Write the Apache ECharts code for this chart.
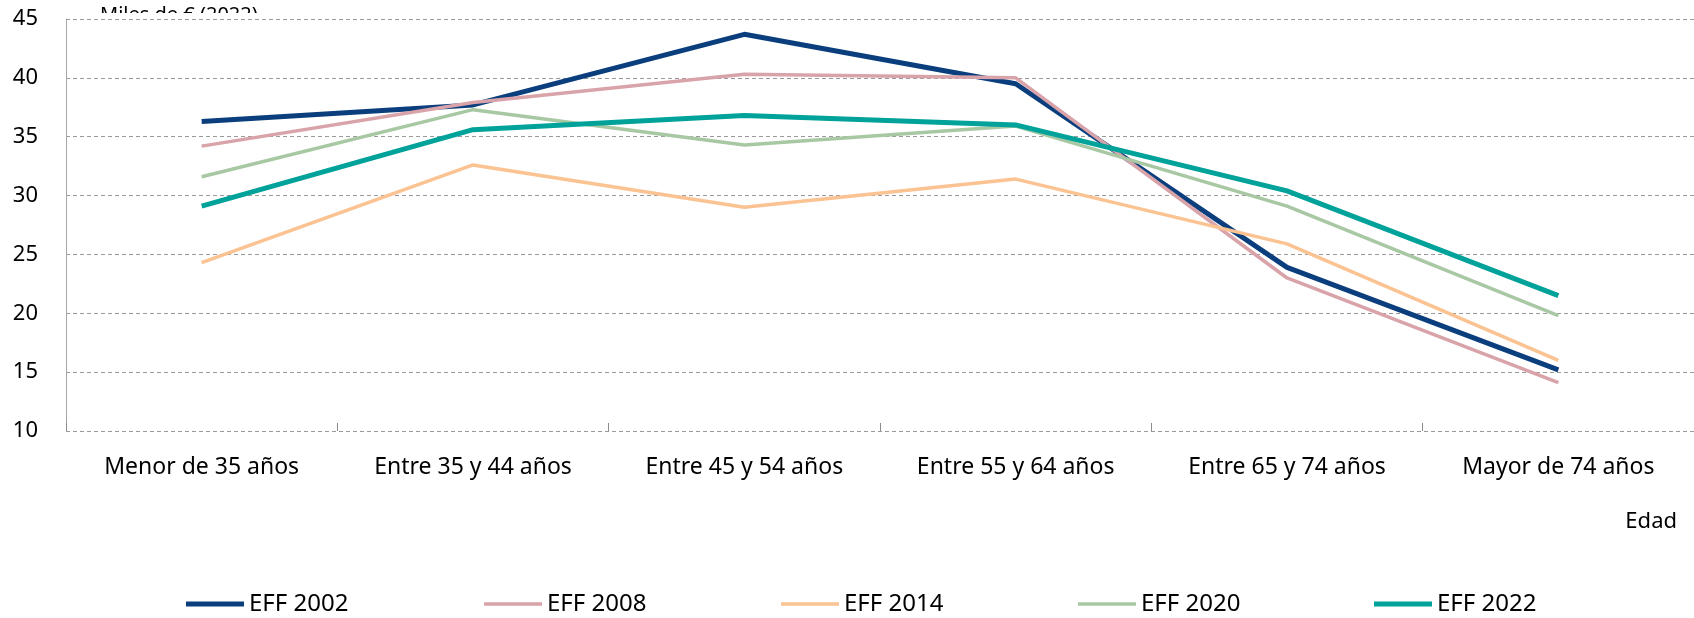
<!DOCTYPE html>
<html>
<head>
<meta charset="utf-8">
<script src="https://cdn.jsdelivr.net/npm/echarts@6/dist/echarts.min.js"></script>
<style>
  html, body { margin: 0; padding: 0; background: #fff; }
  #chart { width: 1694px; height: 618px; }
</style>
</head>
<body>
<div id="chart"></div>
<script>
// grupos de edad
const categories = ['Menor de 35 años', 'Entre 35 y 44 años', 'Entre 45 y 54 años', 'Entre 55 y 64 años', 'Entre 65 y 74 años', 'Mayor de 74 años']
// miles de euros (2022)
const eff2002 = [36.3, 37.7, 43.7, 39.5, 23.9, 15.2]
const eff2008 = [34.2, 37.9, 40.3, 40.0, 23.0, 14.1]
const eff2014 = [24.3, 32.6, 29.0, 31.4, 25.9, 16.0]
const eff2020 = [31.6, 37.3, 34.3, 35.9, 29.1, 19.8]
const eff2022 = [29.1, 35.6, 36.8, 36.0, 30.4, 21.5]
const seriesNames = ['EFF 2002', 'EFF 2008', 'EFF 2014', 'EFF 2020', 'EFF 2022']
const unitLabel = 'Miles de € (2022)'
const axisTitle = 'Edad'

const font = '"Noto Sans", sans-serif'
const colors = ['#0a3e7d', '#d9a3aa', '#fbc292', '#a8c8a4', '#00a29a']
const widths = [5, 3.5, 3.5, 3.5, 5]
const legendLeft = [186, 484, 781, 1078, 1374]
const values = [eff2002, eff2008, eff2014, eff2020, eff2022]

const chart = echarts.init(document.getElementById('chart'))

let series = []
let legends = []
for (let i = 0; i < seriesNames.length; i++) {
  series.push({
    name: seriesNames[i],
    type: 'line',
    data: values[i],
    symbol: 'none',
    color: colors[i],
    lineStyle: { color: colors[i], width: widths[i] },
    animation: false
  })
  legends.push({
    data: [seriesNames[i]],
    left: legendLeft[i],
    top: 592,
    padding: 0,
    icon: 'rect',
    itemWidth: 58,
    itemHeight: widths[i],
    textStyle: { fontFamily: font, fontSize: 24, color: '#000' }
  })
}

const options = {
  backgroundColor: '#fff',
  grid: { left: 66, right: -9, top: 19, bottom: 187 },
  legend: legends,
  xAxis: {
    type: 'category',
    data: categories,
    boundaryGap: true,
    axisLine: { show: false },
    axisTick: { show: true, inside: true, length: 8, lineStyle: { color: '#8c8c8c' } },
    axisLabel: { fontFamily: font, fontSize: 23, color: '#000', margin: 25 }
  },
  yAxis: {
    type: 'value',
    min: 10,
    max: 45,
    interval: 5,
    axisLine: { show: true, lineStyle: { color: '#a6a6a6', width: 1 } },
    axisTick: { show: false },
    axisLabel: { fontFamily: font, fontSize: 22, color: '#000', margin: 28 },
    splitLine: { show: true, lineStyle: { color: '#9a9a9a', type: [4, 3], width: 1 } }
  },
  graphic: [
    {
      type: 'text',
      left: 100,
      top: 5,
      z: -2,
      style: { text: unitLabel, fontFamily: font, fontSize: 20, fill: '#000' }
    },
    {
      // el título queda tapado por el área del gráfico, como en el original
      type: 'rect',
      shape: { x: 92, y: 13, width: 190, height: 20 },
      style: { fill: '#fff' },
      z: -1
    },
    {
      type: 'text',
      right: 17,
      top: 511,
      style: { text: axisTitle, fontFamily: font, fontSize: 22, fill: '#000' }
    }
  ],
  series: series
}
chart.setOption(options)
</script>
</body>
</html>
